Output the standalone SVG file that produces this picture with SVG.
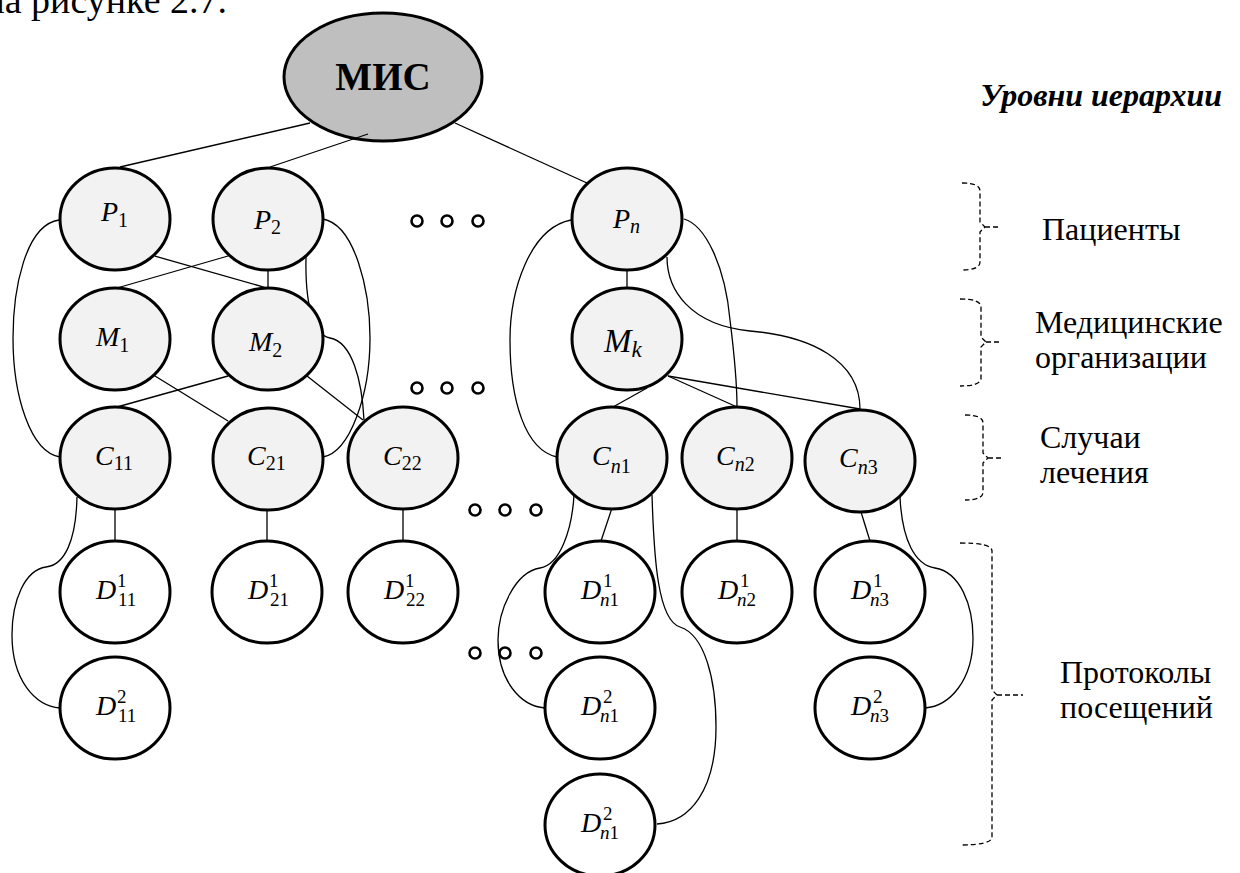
<svg xmlns="http://www.w3.org/2000/svg" width="1240" height="873" viewBox="0 0 1240 873">
  <style>
    .body { font-family: "Liberation Serif", "Times New Roman", serif; font-size: 32px; fill: #000; }
    .node { stroke: #000; stroke-width: 3; }
    .lvl { fill: #F2F2F2; }
    .doc { fill: #FFFFFF; }
    .root { fill: #BFBFBF; }
    .edge { fill: none; stroke: #000; stroke-width: 1.3; }
    .brace { fill: none; stroke: #000; stroke-width: 1.3; stroke-dasharray: 5 3; }
    .dot { fill: #fff; stroke: #000; stroke-width: 2.6; }
    .lb { font-family: "Liberation Serif", "Times New Roman", serif; font-style: italic; font-size: 28px; fill: #000; }
    .sb { font-style: normal; font-size: 20px; }
    .si { font-style: italic; font-size: 20px; }
    .ds { font-style: normal; font-size: 19px; }
    .dsi { font-style: italic; font-size: 19px; }
  </style>

  <!-- running text above the figure -->
  <text class="body" x="227" y="13" text-anchor="end" style="font-size:38px">на рисунке 2.7.</text>

  <!-- root system -->
  <g id="mis">
    <ellipse class="node root" cx="383" cy="77" rx="99" ry="64"/>
    <text x="383" y="90" text-anchor="middle" font-family="Liberation Serif, serif" font-weight="bold" font-size="39">МИС</text>
  </g>

  <!-- connectors -->
  <g id="connectors">
    <line class="edge" x1="120" y1="167" x2="310" y2="123"/>
    <line class="edge" x1="270" y1="167" x2="368" y2="134"/>
    <line class="edge" x1="587" y1="183" x2="455" y2="123"/>
    <line class="edge" x1="155" y1="256" x2="267" y2="288"/>
    <line class="edge" x1="228" y1="256" x2="117" y2="288"/>
    <line class="edge" x1="268" y1="270" x2="268" y2="288"/>
    <line class="edge" x1="155" y1="376" x2="228" y2="421"/>
    <line class="edge" x1="228" y1="376" x2="117" y2="407"/>
    <line class="edge" x1="307" y1="376" x2="363" y2="420"/>
    <line class="edge" x1="627" y1="270" x2="627" y2="288"/>
    <line class="edge" x1="647" y1="388" x2="613" y2="407"/>
    <line class="edge" x1="668" y1="376" x2="737" y2="407"/>
    <line class="edge" x1="668" y1="376" x2="860" y2="409"/>
    <line class="edge" x1="115" y1="508" x2="115" y2="541"/>
    <line class="edge" x1="267" y1="509" x2="267" y2="541"/>
    <line class="edge" x1="403" y1="508" x2="403" y2="541"/>
    <line class="edge" x1="612" y1="508" x2="601" y2="541"/>
    <line class="edge" x1="737" y1="508" x2="737" y2="541"/>
    <line class="edge" x1="861" y1="512" x2="870" y2="541"/>
    <!-- curved links -->
    <path class="edge" d="M59,220 C25,225 13,290 13,338 C13,395 30,452 60,457"/>
    <path class="edge" d="M323,219 C355,225 370,290 370,338 C370,395 350,452 323,457"/>
    <path class="edge" d="M306,257 C305,300 312,335 330,338 C352,342 362,380 364,420"/>
    <path class="edge" d="M571,220 C530,228 510,290 510,340 C510,400 525,450 557,457"/>
    <path class="edge" d="M684,219 C705,225 725,265 730,320 C735,360 737,390 737,407"/>
    <path class="edge" d="M667,257 C667,290 690,325 750,331 C810,336 860,360 860,409"/>
    <path class="edge" d="M574,495 C572,530 560,565 540,568 C515,572 498,610 498,640 C498,680 520,706 545,708"/>
    <path class="edge" d="M652,495 C654,560 658,620 680,627 C705,635 716,680 716,727 C716,790 690,822 657,824"/>
    <path class="edge" d="M77,497 C76,540 65,565 46,567 C25,570 12,600 12,635 C12,680 35,706 60,708"/>
    <path class="edge" d="M900,497 C902,540 915,565 935,568 C960,572 973,605 973,638 C973,680 950,706 925,708"/>
  </g>

  <!-- patients -->
  <g id="p1"><ellipse class="node lvl" cx="115" cy="219" rx="55" ry="51"/>
    <text class="lb" x="101" y="221">P<tspan class="sb" dy="6">1</tspan></text></g>
  <g id="p2"><ellipse class="node lvl" cx="268" cy="219" rx="55" ry="51"/>
    <text class="lb" x="254" y="229">P<tspan class="sb" dy="5">2</tspan></text></g>
  <g id="pn"><ellipse class="node lvl" cx="627" cy="219" rx="55" ry="51"/>
    <text class="lb" x="613" y="228">P<tspan class="si" dy="5">n</tspan></text></g>

  <!-- medical organisations -->
  <g id="m1"><ellipse class="node lvl" cx="115" cy="339" rx="55" ry="51"/>
    <text class="lb" x="96" y="346">M<tspan class="sb" dy="6">1</tspan></text></g>
  <g id="m2"><ellipse class="node lvl" cx="268" cy="339" rx="55" ry="51"/>
    <text class="lb" x="249" y="351">M<tspan class="sb" dy="6">2</tspan></text></g>
  <g id="mk"><ellipse class="node lvl" cx="627" cy="339" rx="55" ry="51"/>
    <text class="lb" x="604" y="352" style="font-size:33px">M<tspan class="si" style="font-size:23px" dy="5">k</tspan></text></g>

  <!-- treatment cases -->
  <g id="c11"><ellipse class="node lvl" cx="115" cy="458" rx="55" ry="51"/>
    <text class="lb" x="95" y="465">C<tspan class="sb" dy="5">11</tspan></text></g>
  <g id="c21"><ellipse class="node lvl" cx="268" cy="459" rx="55" ry="51"/>
    <text class="lb" x="247" y="465">C<tspan class="sb" dy="5">21</tspan></text></g>
  <g id="c22"><ellipse class="node lvl" cx="403" cy="458" rx="55" ry="51"/>
    <text class="lb" x="383" y="465">C<tspan class="sb" dy="5">22</tspan></text></g>
  <g id="cn1"><ellipse class="node lvl" cx="612" cy="458" rx="55" ry="51"/>
    <text class="lb" x="592" y="465">C<tspan class="si" dy="8">n</tspan><tspan class="sb">1</tspan></text></g>
  <g id="cn2"><ellipse class="node lvl" cx="737" cy="458" rx="55" ry="51"/>
    <text class="lb" x="716" y="465">C<tspan class="si" dy="6">n</tspan><tspan class="sb">2</tspan></text></g>
  <g id="cn3"><ellipse class="node lvl" cx="860" cy="461" rx="55" ry="51"/>
    <text class="lb" x="839" y="467">C<tspan class="si" dy="7">n</tspan><tspan class="sb">3</tspan></text></g>

  <!-- visit protocols -->
  <g id="d11a"><ellipse class="node doc" cx="115" cy="592" rx="55" ry="51"/>
    <text class="lb" x="96" y="599">D</text><text class="lb ds" x="117" y="587">1</text><text class="lb ds" x="118" y="606">11</text></g>
  <g id="d11b"><ellipse class="node doc" cx="115" cy="708" rx="55" ry="51"/>
    <text class="lb" x="96" y="715">D</text><text class="lb ds" x="117" y="703">2</text><text class="lb ds" x="118" y="722">11</text></g>
  <g id="d21a"><ellipse class="node doc" cx="267" cy="592" rx="55" ry="51"/>
    <text class="lb" x="248" y="599">D</text><text class="lb ds" x="269" y="587">1</text><text class="lb ds" x="270" y="606">21</text></g>
  <g id="d22a"><ellipse class="node doc" cx="403" cy="592" rx="55" ry="51"/>
    <text class="lb" x="384" y="599">D</text><text class="lb ds" x="405" y="587">1</text><text class="lb ds" x="406" y="606">22</text></g>
  <g id="dn1a"><ellipse class="node doc" cx="600" cy="592" rx="55" ry="51"/>
    <text class="lb" x="581" y="599">D</text><text class="lb ds" x="603" y="587">1</text><text class="lb dsi" x="600" y="606">n<tspan class="ds">1</tspan></text></g>
  <g id="dn1b"><ellipse class="node doc" cx="600" cy="708" rx="55" ry="51"/>
    <text class="lb" x="581" y="715">D</text><text class="lb ds" x="603" y="703">2</text><text class="lb dsi" x="600" y="722">n<tspan class="ds">1</tspan></text></g>
  <g id="dn1c"><ellipse class="node doc" cx="600" cy="825" rx="55" ry="51"/>
    <text class="lb" x="581" y="832">D</text><text class="lb ds" x="603" y="820">2</text><text class="lb dsi" x="600" y="839">n<tspan class="ds">1</tspan></text></g>
  <g id="dn2a"><ellipse class="node doc" cx="737" cy="592" rx="55" ry="51"/>
    <text class="lb" x="718" y="599">D</text><text class="lb ds" x="740" y="587">1</text><text class="lb dsi" x="737" y="606">n<tspan class="ds">2</tspan></text></g>
  <g id="dn3a"><ellipse class="node doc" cx="870" cy="592" rx="55" ry="51"/>
    <text class="lb" x="851" y="599">D</text><text class="lb ds" x="873" y="587">1</text><text class="lb dsi" x="870" y="606">n<tspan class="ds">3</tspan></text></g>
  <g id="dn3b"><ellipse class="node doc" cx="870" cy="708" rx="55" ry="51"/>
    <text class="lb" x="851" y="715">D</text><text class="lb ds" x="873" y="703">2</text><text class="lb dsi" x="870" y="722">n<tspan class="ds">3</tspan></text></g>

  <!-- ellipsis markers for omitted branches -->
  <g id="ellipsis">
    <circle class="dot" cx="417" cy="221" r="5.5"/><circle class="dot" cx="447" cy="221" r="5.5"/><circle class="dot" cx="478" cy="221" r="5.5"/>
    <circle class="dot" cx="417" cy="388" r="5.5"/><circle class="dot" cx="447" cy="388" r="5.5"/><circle class="dot" cx="478" cy="388" r="5.5"/>
    <circle class="dot" cx="475" cy="510" r="5.5"/><circle class="dot" cx="505" cy="510" r="5.5"/><circle class="dot" cx="536" cy="510" r="5.5"/>
    <circle class="dot" cx="475" cy="653" r="5.5"/><circle class="dot" cx="505" cy="653" r="5.5"/><circle class="dot" cx="536" cy="653" r="5.5"/>
  </g>

  <!-- hierarchy levels legend -->
  <g id="legend">
    <text class="body" x="1222" y="106" text-anchor="end" font-weight="bold" font-style="italic">Уровни иерархии</text>
    <path class="brace" d="M962,183 Q980,183 980,191 L980,222 L985,227 L980,232 L980,262 Q980,270 962,270 M985,227 L1000,227"/>
    <text class="body" x="1042" y="240">Пациенты</text>
    <path class="brace" d="M960,299 Q981,299 981,307 L981,337 L986,342 L981,347 L981,378 Q981,386 960,386 M986,342 L1002,342"/>
    <text class="body" x="1035" y="333">Медицинские</text>
    <text class="body" x="1035" y="368">организации</text>
    <path class="brace" d="M965,415 Q983,415 983,423 L983,453 L988,458 L983,463 L983,492 Q983,500 965,500 M988,458 L1003,458"/>
    <text class="body" x="1040" y="448">Случаи</text>
    <text class="body" x="1040" y="483">лечения</text>
    <path class="brace" d="M960,543 Q992,543 992,551 L992,690 L997,695 L992,700 L992,837 Q992,845 960,845 M997,695 L1023,695"/>
    <text class="body" x="1060" y="683">Протоколы</text>
    <text class="body" x="1060" y="718">посещений</text>
  </g>
</svg>
